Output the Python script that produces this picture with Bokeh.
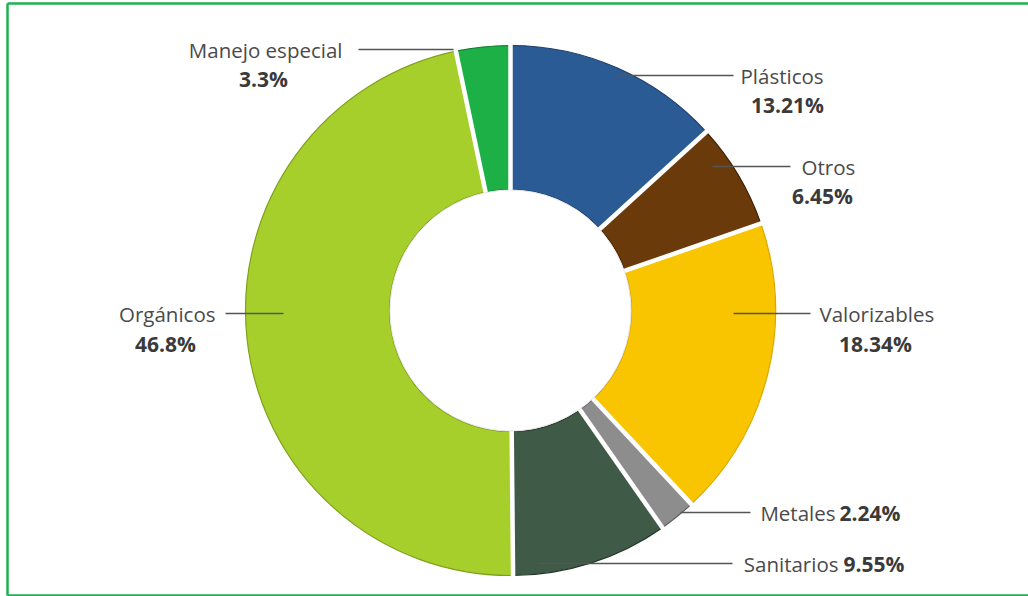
import math
from bokeh.plotting import figure
from bokeh.models import Range1d, ColumnDataSource
from bokeh.core.properties import value
from bokeh.embed import file_html
from bokeh.resources import INLINE

# ---- data ----
categories = ["Plásticos", "Otros", "Valorizables", "Metales", "Sanitarios", "Orgánicos", "Manejo especial"]
percentages = [13.21, 6.45, 18.34, 2.24, 9.55, 46.8, 3.3]
pct_labels = ["13.21%", "6.45%", "18.34%", "2.24%", "9.55%", "46.8%", "3.3%"]

# ---- styles ----
colors = ["#2B5B94", "#6A3A0B", "#F8C500", "#8D8D8D", "#3F5A46", "#A7CF2C", "#1CB046"]
edges = ["#1E3F66", "#3E2206", "#D9A800", "#5E5E5E", "#24362A", "#7FA11A", "#0F7A2E"]

W, H = 1028, 596
CX, CY = 510, 310          # centre in page pixels (y down)
R_OUT, R_IN = 265, 121

def Y(py):
    return H - py

# label layout (page pixels): name pos, pct pos, leader x-range
layout = [
    dict(nx=740, ny=75, na="left", px=787, py=104, pa="center", lx0=615, lx1=733, ly=75),
    dict(nx=801, ny=166, na="left", px=822, py=195, pa="center", lx0=712, lx1=790, ly=166),
    dict(nx=819, ny=313, na="left", px=875, py=343, pa="center", lx0=733, lx1=810, ly=313),
    dict(nx=835, ny=512, na="right", px=839, py=512, pa="left", lx0=680, lx1=750, ly=512),
    dict(nx=838, ny=563, na="right", px=843, py=563, pa="left", lx0=538, lx1=732, ly=563),
    dict(nx=215, ny=313, na="right", px=165, py=343, pa="center", lx0=225, lx1=283, ly=313),
    dict(nx=342, ny=49, na="right", px=263, py=78, pa="center", lx0=358, lx1=453, ly=49),
]

total = sum(percentages)
starts, ends = [], []
cum = 0.0
for v in percentages:
    a0 = cum / total
    cum += v
    a1 = cum / total
    # clockwise from 12 o'clock -> bokeh anticlockwise from +x
    starts.append(math.pi / 2 - 2 * math.pi * a1)
    ends.append(math.pi / 2 - 2 * math.pi * a0)

p = figure(width=W, height=H, output_backend="svg", toolbar_location=None,
           x_range=Range1d(0, W), y_range=Range1d(0, H), min_border=0)
p.axis.visible = False
p.grid.visible = False
p.outline_line_color = None
p.background_fill_color = "white"
p.border_fill_color = "white"

src = ColumnDataSource(dict(start=starts, end=ends, color=colors, edge=edges, cat=categories))
p.annular_wedge(x=CX, y=Y(CY), inner_radius=R_IN, outer_radius=R_OUT,
                start_angle="start", end_angle="end", fill_color="color",
                line_color="edge", line_width=1.2, source=src)

# white separators at slice boundaries
bx0, by0, bx1, by1 = [], [], [], []
for a in ends:
    bx0.append(CX + (R_IN - 2) * math.cos(a)); by0.append(Y(CY) + (R_IN - 2) * math.sin(a))
    bx1.append(CX + (R_OUT + 2) * math.cos(a)); by1.append(Y(CY) + (R_OUT + 2) * math.sin(a))
p.segment(x0=bx0, y0=by0, x1=bx1, y1=by1, line_color="white", line_width=4.5)

# inner white circle edge
p.circle(x=[CX], y=[Y(CY)], radius=R_IN - 0.5, fill_color="white", line_color="#E6E6E6", line_width=1)

# leader lines
p.segment(x0=[d["lx0"] for d in layout], y0=[Y(d["ly"]) for d in layout],
          x1=[d["lx1"] for d in layout], y1=[Y(d["ly"]) for d in layout],
          line_color="#555555", line_width=1.6)

FONT = value("Open Sans")
for d, name, pct in zip(layout, categories, pct_labels):
    p.text(x=[d["nx"]], y=[Y(d["ny"])], text=[name], text_align=d["na"], text_baseline="middle",
           text_font=FONT, text_font_size="20.5px", text_color="#4A4A4A")
    p.text(x=[d["px"]], y=[Y(d["py"])], text=[pct], text_align=d["pa"], text_baseline="middle",
           text_font=FONT, text_font_size="21px", text_font_style="bold", text_color="#3A3A3A")

# green frame (top, left, bottom)
p.segment(x0=[7, 7, 7], y0=[Y(3), Y(3), Y(595)], x1=[W + 5, 7, W + 5], y1=[Y(3), Y(595), Y(595)],
          line_color="#1FB050", line_width=2.5)

open("out.html", "w").write(file_html(p, INLINE))
